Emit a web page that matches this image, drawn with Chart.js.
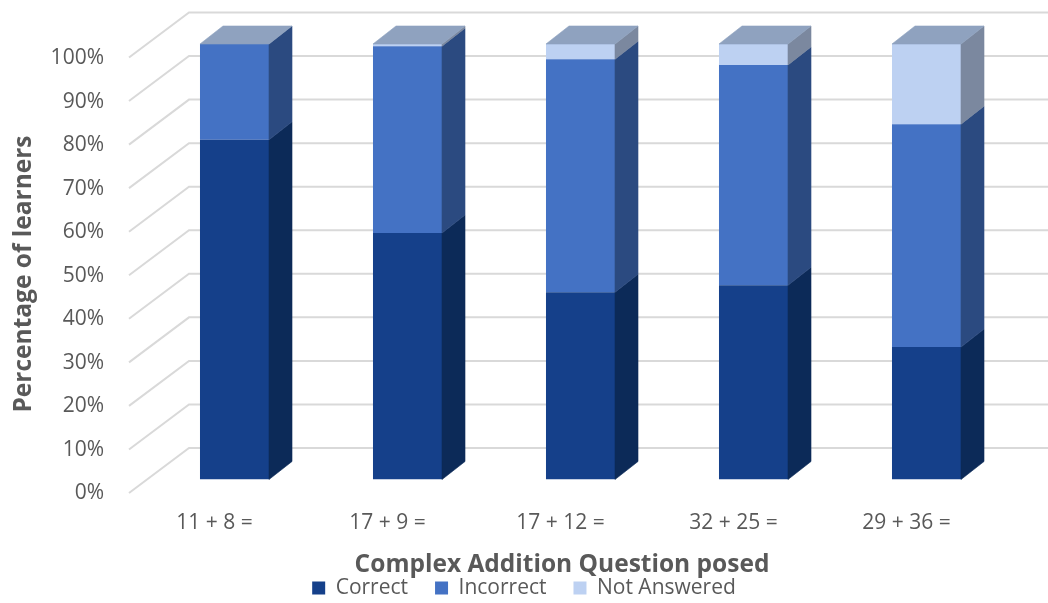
<!DOCTYPE html>
<html>
<head>
<meta charset="utf-8">
<script src="https://cdn.jsdelivr.net/npm/chart.js@4/dist/chart.umd.min.js"></script>
<style>
  html, body { margin: 0; padding: 0; background: #ffffff; }
  #wrap { width: 1048px; height: 603px; position: relative; }
</style>
</head>
<body>
<div id="wrap"><canvas id="chart"></canvas></div>
<script>
// Questions asked and the share of learners (%) in each outcome
const questions = ['11 + 8 =', '17 + 9 =', '17 + 12 =', '32 + 25 =', '29 + 36 ='];
const correct = [78.0, 56.6, 43.0, 44.6, 30.4];
const incorrect = [22.0, 42.9, 53.5, 50.6, 51.2];
const notAnswered = [0.0, 0.5, 3.5, 4.8, 18.4];

const seriesNames = ['Correct', 'Incorrect', 'Not Answered'];
const yTitle = 'Percentage of learners';
const xTitle = 'Complex Addition Question posed';

const TEXT = '#595959';
const FONT = "'Open Sans', 'Liberation Sans', sans-serif";

// Depth of the extruded columns and of the back wall
const DX = 23, DY = -18;
const WALL_DX = 60, WALL_FRONT = 13.5, WALL_BACK = -31.5;
const TOP_FACE = '#8fa2bf';

const depth3d = {
  id: 'depth3d',
  beforeDatasetsDraw(chart) {
    const { ctx, scales: { y } } = chart;
    ctx.save();
    ctx.strokeStyle = '#d9d9d9';
    ctx.lineWidth = 2;
    y.ticks.forEach(t => {
      const py = y.getPixelForValue(t.value);
      const x0 = chart.chartArea.left - 19;
      ctx.beginPath();
      ctx.moveTo(x0, py + WALL_FRONT);
      ctx.lineTo(x0 + WALL_DX, py + WALL_BACK);
      ctx.lineTo(chart.width, py + WALL_BACK);
      ctx.stroke();
    });
    ctx.restore();
  },
  afterDatasetsDraw(chart) {
    const { ctx } = chart;
    ctx.save();
    chart.data.labels.forEach((_, i) => {
      let top = null;
      chart.data.datasets.forEach((ds, d) => {
        const el = chart.getDatasetMeta(d).data[i];
        const { x, y, base, width } = el.getProps(['x', 'y', 'base', 'width'], true);
        if (Math.abs(base - y) < 0.01) return;
        const r = x + width / 2;
        ctx.fillStyle = ds.sideColor;
        ctx.strokeStyle = ds.sideColor;
        ctx.lineWidth = 0.6;
        ctx.beginPath();
        ctx.moveTo(r, y);
        ctx.lineTo(r + DX, y + DY);
        ctx.lineTo(r + DX, base + DY);
        ctx.lineTo(r, base);
        ctx.closePath();
        ctx.fill();
        ctx.stroke();
        top = { l: x - width / 2, r, y };
      });
      if (top) {
        ctx.fillStyle = TOP_FACE;
        ctx.strokeStyle = TOP_FACE;
        ctx.lineWidth = 0.6;
        ctx.beginPath();
        ctx.moveTo(top.l, top.y);
        ctx.lineTo(top.r, top.y);
        ctx.lineTo(top.r + DX, top.y + DY);
        ctx.lineTo(top.l + DX, top.y + DY);
        ctx.closePath();
        ctx.fill();
        ctx.stroke();
      }
    });
    ctx.restore();
  },
  afterDraw(chart) {
    const { ctx } = chart;
    ctx.save();
    ctx.fillStyle = TEXT;
    ctx.font = "bold 24.5px " + FONT;
    ctx.textAlign = 'center';
    ctx.textBaseline = 'middle';
    ctx.fillText(xTitle, 562, 565);
    ctx.translate(24, 274);
    ctx.rotate(-Math.PI / 2);
    ctx.fillText(yTitle, 0, 0);
    ctx.restore();
  }
};

const chart = new Chart(document.getElementById('chart'), {
  type: 'bar',
  data: {
    labels: questions,
    datasets: [
      { label: seriesNames[0], data: correct, backgroundColor: '#15408a', sideColor: '#0c2a58' },
      { label: seriesNames[1], data: incorrect, backgroundColor: '#4472c4', sideColor: '#2b4a80' },
      { label: seriesNames[2], data: notAnswered, backgroundColor: '#bdd1f2', sideColor: '#7b889f' }
    ]
  },
  options: {
    responsive: true,
    maintainAspectRatio: false,
    animation: false,
    datasets: { bar: { categoryPercentage: 1, barPercentage: 0.399, borderWidth: 0 } },
    layout: { padding: { top: 44, right: 35, left: 35, bottom: -5.5 } },
    plugins: {
      legend: {
        position: 'bottom',
        labels: {
          boxWidth: 13, boxHeight: 13, padding: 27,
          color: TEXT, font: { family: FONT, size: 21 }
        }
      },
      tooltip: { enabled: false }
    },
    scales: {
      x: {
        stacked: true,
        grid: { display: false, drawTicks: false },
        border: { display: false },
        ticks: { color: TEXT, font: { family: FONT, size: 21 }, padding: 31, labelOffset: -20 },
        afterFit(scale) { scale.height = 71; scale.paddingLeft = 0; scale.paddingRight = 0; }
      },
      y: {
        stacked: true,
        min: 0, max: 100,
        grid: { display: false, drawTicks: false },
        border: { display: false },
        ticks: {
          stepSize: 10, color: TEXT, font: { family: FONT, size: 21 },
          padding: 44, labelOffset: 14,
          callback: v => v + '%'
        },
        afterFit(scale) { scale.width = 113; scale.paddingTop = 0; scale.paddingBottom = 0; }
      }
    }
  },
  plugins: [depth3d]
});
</script>
</body>
</html>
